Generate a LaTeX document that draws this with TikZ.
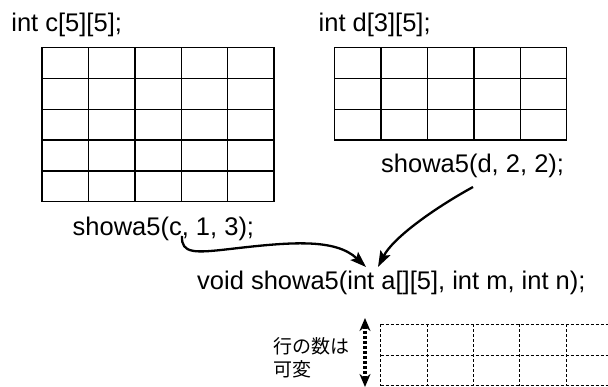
\documentclass[tikz,border=0pt]{standalone}
\usepackage{fontspec}
\setmainfont{Liberation Sans}
\newfontfamily\jpfont{Noto Sans CJK JP}
\usetikzlibrary{arrows.meta}
\begin{document}
\begin{tikzpicture}[x=1pt,y=-1pt,
  lbl/.style={inner sep=0pt, anchor=base west, font=\fontsize{25.5}{30}\selectfont},
  jplbl/.style={inner sep=0pt, anchor=base west, font=\jpfont\fontsize{19}{23}\selectfont},
  cellgrid/.style={line width=1.4pt},
  vargrid/.style={line width=1pt, dash pattern=on 3pt off 2pt},
  callarrow/.style={line width=2.3pt, -{Stealth[length=16pt,width=11pt,inset=3pt]}},
  rowarrow/.style={line width=3.5pt, dash pattern=on 3pt off 2pt,
    {Stealth[length=13pt,width=11pt]}-{Stealth[length=13pt,width=11pt]}}]
\clip (0,0) rectangle (608,387);
\fill[white] (0,0) rectangle (608,387);
% array c[5][5]
\draw[cellgrid] (42,47.7) rectangle (274,201.7);
\foreach \i in {1,...,4} {
  \draw[cellgrid] ({42+46.4*\i},47.7) -- ({42+46.4*\i},201.7);
  \draw[cellgrid] (42,{47.7+30.8*\i}) -- (274,{47.7+30.8*\i});
}
% array d[3][5]
\draw[cellgrid] (334.7,47.7) rectangle (566.7,140.1);
\foreach \i in {1,...,4} {
  \draw[cellgrid] ({334.7+46.4*\i},47.7) -- ({334.7+46.4*\i},140.1);
}
\foreach \i in {1,2} {
  \draw[cellgrid] (334.7,{47.7+30.8*\i}) -- (566.7,{47.7+30.8*\i});
}
% variable array a[][5]
\foreach \i in {0,...,5} {
  \draw[vargrid] ({380.7+46.4*\i},324.5) -- ({380.7+46.4*\i},385.8);
}
\foreach \i in {0,1,2} {
  \draw[vargrid] (380.7,{324.5+30.65*\i}) -- (620,{324.5+30.65*\i});
}
% labels
\node[lbl] (declc) at (11.2,32) {int c[5][5];};
\node[lbl] (decld) at (318.5,32) {int d[3][5];};
\node[lbl] (callc) at (72.5,236) {showa5(c, 1, 3);};
\node[lbl] (calld) at (381,173) {showa5(d, 2, 2);};
\node[lbl] (proto) at (197,290) {void showa5(int a[][5], int m, int n);};
\node[jplbl] (jp1) at (273,354) {行の数は};
\node[jplbl] (jp2) at (273,377) {可変};
% connectors
\coordinate (c1start) at (182,236);
\coordinate (d1start) at (473,187);
\coordinate (tip1) at (366,267);
\coordinate (tip2) at (378,267);
\draw[callarrow] (c1start) .. controls (181,254) and (195,253) .. (230,249)
  .. controls (290,242) and (335,238) .. (tip1);
\draw[callarrow] (d1start) .. controls (433,209) and (393,238) .. (tip2);
\coordinate (rtop) at (365,318);
\coordinate (rbot) at (365,387);
\draw[rowarrow] (rtop) -- (rbot);
\end{tikzpicture}
\end{document}
